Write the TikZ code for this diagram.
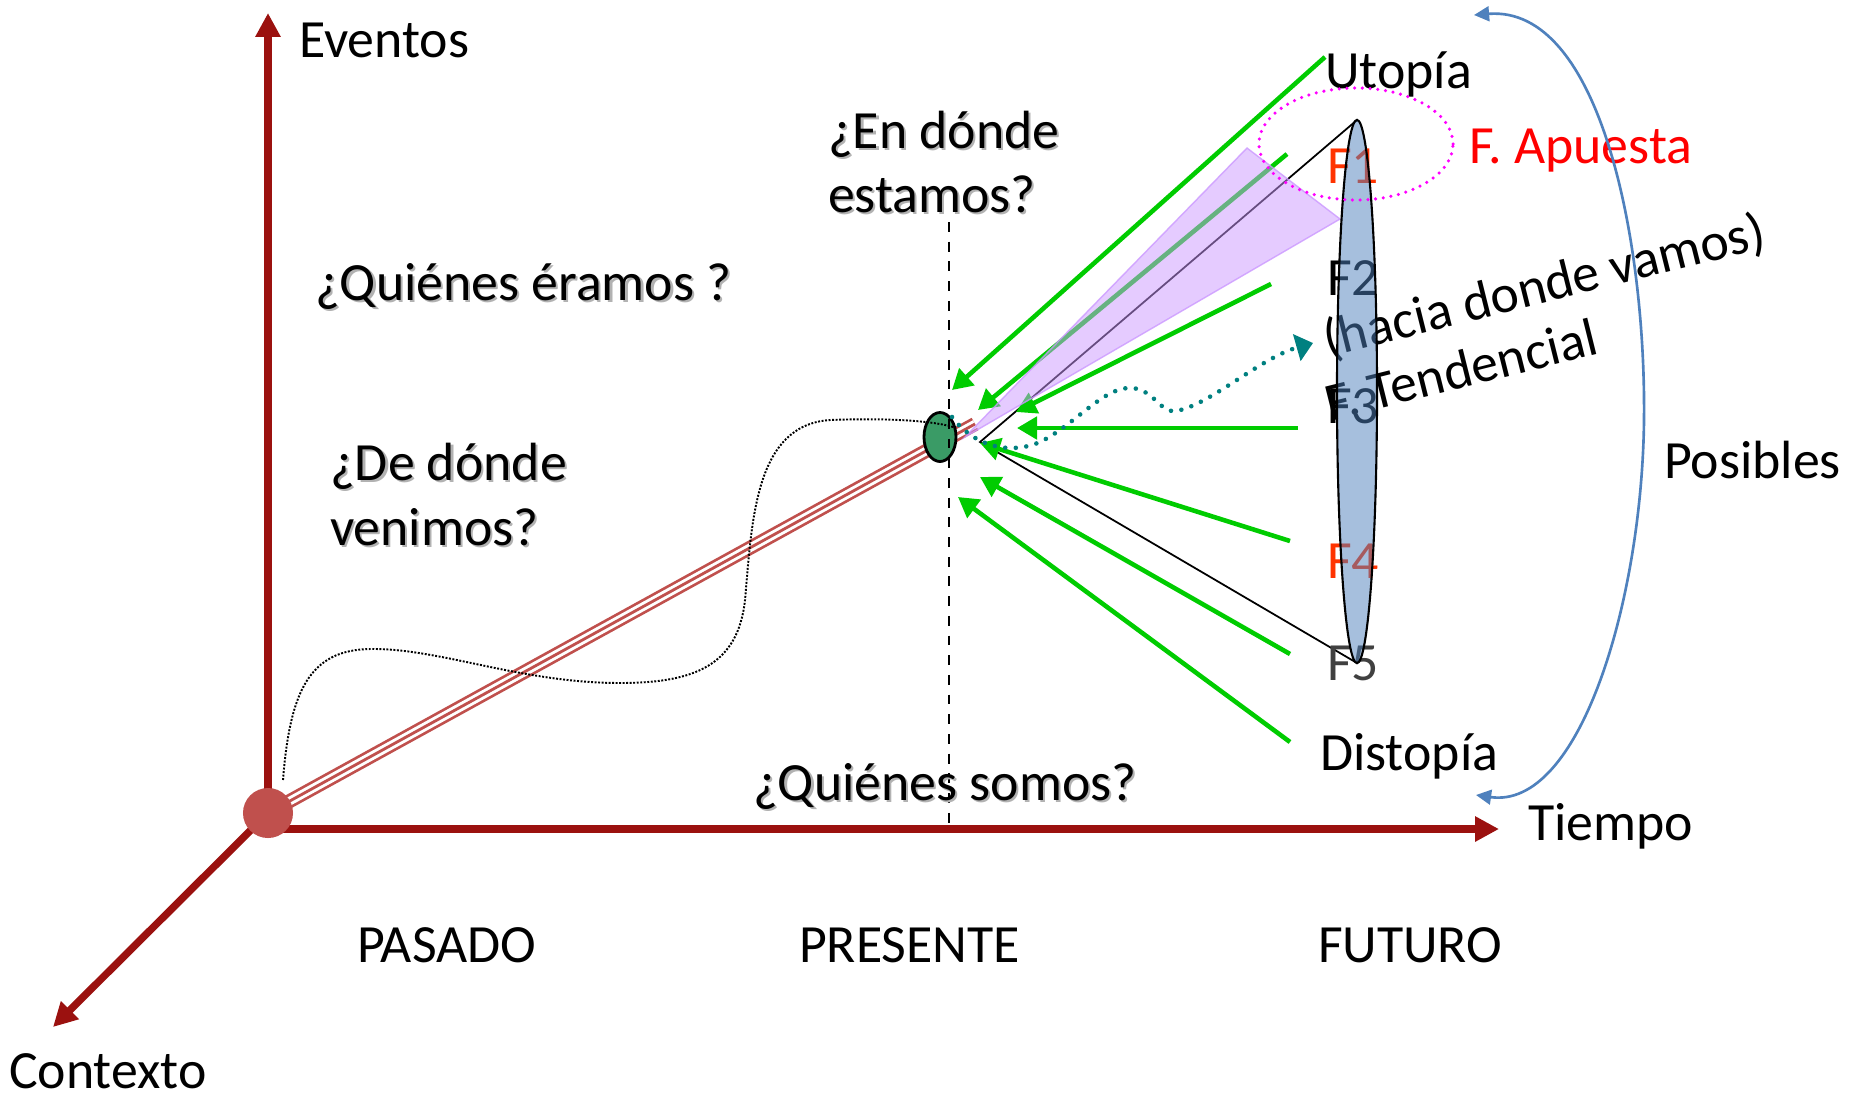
\documentclass[tikz,border=0pt]{standalone}
\usepackage{fontspec}
\setmainfont{Carlito}
\usetikzlibrary{arrows.meta,shapes.geometric}
\definecolor{axisred}{RGB}{155,17,15}
\definecolor{linered}{RGB}{192,80,77}
\definecolor{arrgreen}{RGB}{0,204,0}
\definecolor{egreen}{RGB}{58,155,102}
\definecolor{officeblue}{RGB}{79,129,189}
\definecolor{tealdot}{RGB}{0,128,128}
\definecolor{lilac}{RGB}{204,153,255}
\definecolor{fred}{RGB}{255,51,0}
\definecolor{fgray}{RGB}{64,64,64}
\definecolor{pink2}{RGB}{255,0,255}
\begin{document}
\begin{tikzpicture}[x=0.01cm, y=-0.01cm,
  every node/.style={font=\fontsize{15.3pt}{18.3pt}\selectfont},
  lbl/.style={inner sep=0pt, outer sep=0pt, anchor=base west},
  shlbl/.style={lbl, text=black!30, xshift=0.6pt, yshift=-0.6pt},
  axisline/.style={draw=axisred, line width=2.3pt, -{Triangle[length=6.8pt,width=6.8pt]}},
  garrow/.style={draw=arrgreen, line width=1.3pt, -{Triangle[length=5.7pt,width=6.3pt]}},
  bluecurve/.style={draw=officeblue, line width=0.75pt, {Triangle[length=4.3pt,width=4.2pt]}-{Triangle[length=4.3pt,width=4.2pt]}},
  tealarrow/.style={draw=tealdot, line width=1.3pt, line cap=round, dash pattern=on 0pt off 3pt, -{Triangle[length=4.8pt,width=7.7pt]}},
  blackdots/.style={draw=black, line width=0.55pt, dash pattern=on 0.55pt off 0.45pt},
  vdash/.style={draw=black, line width=0.6pt, dash pattern=on 2.8pt off 2.8pt}
]
\useasboundingbox (0,0) rectangle (1854,1096);
\fill[white] (0,0) rectangle (1854,1096);

% coordinates
\coordinate (Oc) at (268,813);
\coordinate (Oh) at (268,829);
\coordinate (evTip) at (268,13);
\coordinate (tiTip) at (1499,829);
\coordinate (coTip) at (53,1027);
\coordinate (tripEnd) at (975,424);
\coordinate (vtx) at (980,442);
\coordinate (elTop) at (1357,120);
\coordinate (elBot) at (1357,663);
\coordinate (dTop) at (949,222);
\coordinate (dBot) at (949,829);

% axes
\draw[axisline] (Oc) -- (evTip);
\draw[axisline] (Oh) -- (tiTip);
\draw[axisline, line width=2.1pt] (Oc) -- (coTip);

% triple red line
\draw[linered, line width=4pt] (Oc) -- (tripEnd);
\draw[white, line width=2.45pt] (Oc) -- (tripEnd);
\draw[linered, line width=0.8pt] (Oc) -- (tripEnd);

% origin circle and present ellipse
\node[circle, fill=linered, minimum size=0.5cm, inner sep=0pt] (O) at (Oc) {};
\node[ellipse, draw=black, line width=0.8pt, fill=egreen, minimum width=0.32cm, minimum height=0.49cm, inner sep=0pt] (pres) at (940,437) {};

% dotted history curve
\coordinate (dS) at (283,780);
\coordinate (dE) at (953,427);
\draw[blackdots] (dS) .. controls (290,690) and (310,650) .. (370,649)
  .. controls (440,648) and (520,683) .. (620,683)
  .. controls (695,683) and (738,665) .. (745,600)
  .. controls (752,520) and (755,425) .. (830,420)
  .. controls (880,418) and (930,420) .. (dE);

% dashed present line
\draw[vdash] (dTop) -- (dBot);

% black cone lines
\draw[black, line width=0.5pt] (elTop) -- (vtx) -- (elBot);

% green arrows
\coordinate (g1s) at (1325,57);   \coordinate (g1e) at (952,390);
\coordinate (g2s) at (1287,154);  \coordinate (g2e) at (978,410);
\coordinate (g3s) at (1271,284);  \coordinate (g3e) at (1016,412);
\coordinate (g4s) at (1298,428);  \coordinate (g4e) at (1017,428);
\coordinate (g5s) at (1290,541);  \coordinate (g5e) at (980,443);
\coordinate (g6s) at (1290,654);  \coordinate (g6e) at (980,477);
\coordinate (g7s) at (1290,742);  \coordinate (g7e) at (958,497);
\draw[garrow] (g1s) -- (g1e);
\draw[garrow] (g2s) -- (g2e);
\draw[garrow] (g3s) -- (g3e);
\draw[garrow] (g4s) -- (g4e);
\draw[garrow] (g5s) -- (g5e);
\draw[garrow] (g6s) -- (g6e);
\draw[garrow] (g7s) -- (g7e);

% purple cone
\filldraw[fill=lilac, fill opacity=0.5, draw=lilac, draw opacity=0.8, line width=0.4pt]
  (965,437) -- (1247,148) -- (1340,219) -- cycle;

% teal trend arrow
\coordinate (tS) at (952,417);
\coordinate (tE) at (1313,343);
\draw[tealarrow] (tS) .. controls (975,447) and (1010,455) .. (1040,442)
  .. controls (1075,425) and (1105,385) .. (1133,388)
  .. controls (1155,391) and (1160,413) .. (1176,411)
  .. controls (1210,405) and (1260,358) .. (tE);

% labels
\node[lbl] (eventos) at (299,57) {Eventos};
\node[lbl] (utopia) at (1325,88) {Utopía};
\node[lbl, text=red] (apuesta) at (1469,163) {F. Apuesta};
\node[lbl, text=fred] (f1) at (1327,183) {F1};
\node[lbl] (f2) at (1327,295) {F2};
\node[lbl] (f3) at (1327,423) {F3};
\node[lbl, text=fred] (f4) at (1327,578) {F4};
\node[lbl, text=fgray] (f5) at (1327,680) {F5};
\node[lbl] (distopia) at (1320,770) {Distopía};
\node[lbl] (tiempo) at (1528,840) {Tiempo};
\node[lbl] (posibles) at (1664,478) {Posibles};
\node[lbl] (pasado) at (357,962) {PASADO};
\node[lbl] (presente) at (799,962) {PRESENTE};
\node[lbl] (futuro) at (1318,962) {FUTURO};
\node[lbl] (contexto) at (9,1088) {Contexto};
\node[lbl, rotate=14] (hacia) at (1328,357) {(hacia donde vamos)};
\node[lbl, rotate=14] (tend) at (1330,421) {F. Tendencial};

% question texts with soft shadow
\node[shlbl] (qEraS) at (315,300) {¿Quiénes éramos ?};
\node[lbl] (qEra) at (315,300) {¿Quiénes éramos ?};
\node[shlbl] (qDe1S) at (330,480) {¿De dónde};
\node[lbl] (qDe1) at (330,480) {¿De dónde};
\node[shlbl] (qDe2S) at (330,545) {venimos?};
\node[lbl] (qDe2) at (330,545) {venimos?};
\node[shlbl] (qEn1S) at (828,148) {¿En dónde};
\node[lbl] (qEn1) at (828,148) {¿En dónde};
\node[shlbl] (qEn2S) at (828,212) {estamos?};
\node[lbl] (qEn2) at (828,212) {estamos?};
\node[shlbl] (qSomS) at (753,800) {¿Quiénes somos?};
\node[lbl] (qSom) at (753,800) {¿Quiénes somos?};

% futures ellipse (semi-transparent)
\node[ellipse, draw=black, line width=0.6pt, fill=officeblue, fill opacity=0.5, draw opacity=1,
  minimum width=0.4cm, minimum height=5.43cm, inner sep=0pt] (futs) at (1357,391.5) {};

% pink dotted bet ellipse
\node[ellipse, draw=pink2, line width=1pt, line cap=round, dash pattern=on 0pt off 2.2pt,
  minimum width=1.94cm, minimum height=1.12cm, inner sep=0pt] (bet) at (1356,144) {};

% blue "posibles" curve
\coordinate (bT) at (1474,15);
\coordinate (bB) at (1476,795);
\draw[bluecurve] (bT) .. controls (1600,5) and (1646,240) .. (1644,420)
  .. controls (1642,600) and (1580,810) .. (bB);
\end{tikzpicture}
\end{document}
